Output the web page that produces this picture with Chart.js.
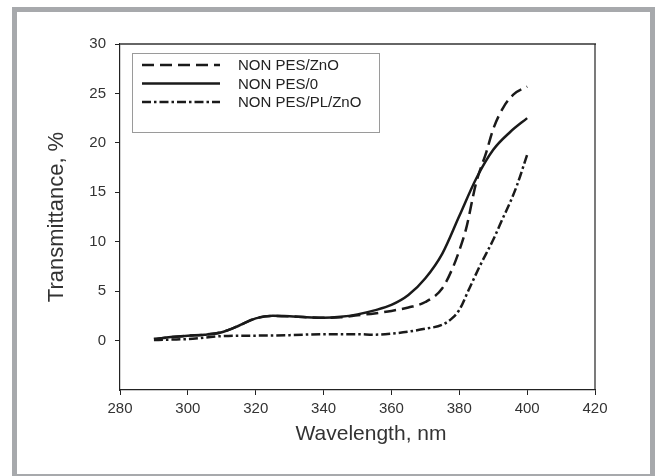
<!DOCTYPE html>
<html><head><meta charset="utf-8">
<script src="https://cdn.jsdelivr.net/npm/chart.js@4/dist/chart.umd.min.js"></script>
<style>
html,body{margin:0;padding:0;background:#fff;width:655px;height:476px;overflow:hidden}
#frame{position:absolute;left:12px;top:7px;width:643px;height:472px;box-sizing:border-box;border:5px solid #a7a9ac;}
#wrap{position:absolute;left:0;top:0;width:655px;height:476px}
</style></head><body>
<div id="frame"></div>
<div id="wrap"><canvas id="c" width="655" height="476"></canvas></div>
<script>
// Series 1: NON PES/ZnO (dashed)
const wlZnO = [290,295,300,305,310,315,320,325,330,335,340,345,350,355,360,365,370,375,378,380,382,385,388,390,393,396,400];
const tZnO  = [0.15,0.35,0.5,0.6,0.85,1.5,2.25,2.5,2.45,2.35,2.3,2.35,2.55,2.75,3.0,3.35,3.9,5.3,7.3,9.1,11.3,16.0,19.1,21.4,23.6,24.9,25.7];
// Series 2: NON PES/0 (solid)
const wlPES0 = [290,295,300,305,310,315,320,325,330,335,340,345,350,355,360,365,370,375,380,385,390,395,400];
const tPES0  = [0.15,0.35,0.5,0.6,0.85,1.5,2.25,2.5,2.45,2.35,2.3,2.4,2.65,3.05,3.6,4.6,6.3,8.8,12.6,16.4,19.3,21.1,22.5];
// Series 3: NON PES/PL/ZnO (dash-dot)
const wlPL = [290,295,300,305,310,315,320,330,340,350,355,360,365,370,375,378,380,383,386,390,393,395,397,400];
const tPL  = [0.05,0.1,0.15,0.3,0.45,0.5,0.5,0.55,0.65,0.65,0.6,0.7,0.9,1.2,1.6,2.3,3.1,5.3,7.5,10.2,12.5,14.0,15.7,18.8];

const seriesLabels = ['NON PES/ZnO','NON PES/0','NON PES/PL/ZnO'];
const yTickValues = [0,5,10,15,20,25,30];
const xTickValues = [280,300,320,340,360,380,400,420];

const pts = (xs, ys) => xs.map((x,i)=>({x:x, y:ys[i]}));

const textColor = '#333';
const lineColor = '#1a1a1a';
const fam = '"Liberation Sans", Arial, sans-serif';

const extras = {
  id:'extras',
  afterDraw(chart){
    const ctx = chart.ctx, a = chart.chartArea;
    ctx.save();
    ctx.strokeStyle = '#666'; ctx.lineWidth = 2;
    ctx.beginPath(); ctx.moveTo(a.left, a.top); ctx.lineTo(a.right+1, a.top); ctx.stroke();
    ctx.strokeStyle = '#222'; ctx.lineWidth = 1.2;
    ctx.beginPath(); ctx.moveTo(a.right, a.top); ctx.lineTo(a.right, a.bottom); ctx.stroke();
    ctx.fillStyle = textColor;
    ctx.font = '21px ' + fam;
    ctx.textAlign = 'center'; ctx.textBaseline = 'middle';
    ctx.fillText('Wavelength, nm', 371, 434);
    const bx = 132, by = 53, bw = 247, bh = 79;
    ctx.strokeStyle = '#9a9a9a'; ctx.lineWidth = 1;
    ctx.strokeRect(bx+0.5, by+0.5, bw, bh);
    const rows = [65, 83.5, 102];
    ctx.font = '15px ' + fam;
    ctx.textAlign = 'left';
    chart.data.datasets.forEach((ds,i)=>{
      ctx.strokeStyle = ds.borderColor; ctx.lineWidth = ds.borderWidth;
      ctx.setLineDash(ds.borderDash || []);
      ctx.beginPath(); ctx.moveTo(142, rows[i]); ctx.lineTo(220, rows[i]); ctx.stroke();
      ctx.setLineDash([]);
      ctx.fillStyle = '#222';
      ctx.fillText(ds.label, 238, rows[i]+1);
    });
    ctx.restore();
  }
};

new Chart(document.getElementById('c'), {
  type:'line',
  data:{ datasets:[
    {label:seriesLabels[0], data:pts(wlZnO,tZnO), borderColor:lineColor, borderWidth:2.5, borderDash:[12,6], pointRadius:0, fill:false, cubicInterpolationMode:'monotone'},
    {label:seriesLabels[1], data:pts(wlPES0,tPES0), borderColor:lineColor, borderWidth:2.5, borderDash:[], pointRadius:0, fill:false, cubicInterpolationMode:'monotone'},
    {label:seriesLabels[2], data:pts(wlPL,tPL), borderColor:lineColor, borderWidth:2.5, borderDash:[9,3,2.5,3], pointRadius:0, fill:false, cubicInterpolationMode:'monotone'}
  ]},
  options:{
    responsive:false, animation:false,
    layout:{padding:{top:44,right:60,left:0,bottom:0}},
    plugins:{legend:{display:false}, tooltip:{enabled:false}},
    scales:{
      x:{type:'linear', min:280, max:420,
        afterBuildTicks(s){ s.ticks = xTickValues.map(v=>({value:v})); },
        afterFit(s){ s.height = 86; },
        ticks:{color:textColor, font:{size:15, family:fam}, padding:5, maxRotation:0},
        grid:{drawOnChartArea:false, drawTicks:true, tickLength:5, color:'#222'},
        border:{display:true, color:'#222', width:1.2}
      },
      y:{type:'linear', min:-5, max:30,
        afterBuildTicks(s){ s.ticks = yTickValues.map(v=>({value:v})); },
        afterFit(s){ s.width = 120; },
        ticks:{color:textColor, font:{size:15, family:fam}, padding:9},
        grid:{drawOnChartArea:false, drawTicks:true, tickLength:5, color:'#222'},
        border:{display:true, color:'#222', width:1.2},
        title:{display:true, text:'Transmittance, %', color:textColor, font:{size:22, lineHeight:1, family:fam}, padding:{top:46,bottom:0}}
      }
    }
  },
  plugins:[extras]
});
</script>
</body></html>
